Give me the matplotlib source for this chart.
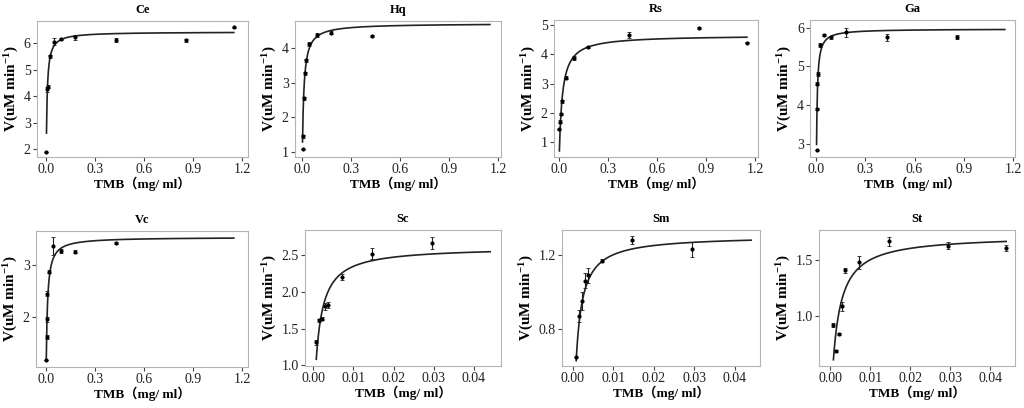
import numpy as np
import matplotlib
matplotlib.use("Agg")
import matplotlib.pyplot as plt

plt.rcParams['font.family'] = ['Liberation Serif', 'Noto Sans CJK SC', 'DejaVu Sans']
plt.rcParams['mathtext.fontset'] = 'custom'
plt.rcParams['mathtext.rm'] = 'Liberation Serif:bold'
plt.rcParams['mathtext.default'] = 'rm'

# ---- data ----
names = ["Ce", "Hq", "Rs", "Ga", "Vc", "Sc", "Sm", "St"]

ce_x = [0.003, 0.007, 0.010, 0.025, 0.050, 0.090, 0.180, 0.430, 0.860, 1.150]
ce_y = [1.90, 4.25, 4.35, 5.50, 6.05, 6.15, 6.22, 6.10, 6.10, 6.60]
ce_e = [0.00, 0.08, 0.05, 0.05, 0.12, 0.04, 0.10, 0.08, 0.06, 0.02]

hq_x = [0.003, 0.005, 0.010, 0.018, 0.025, 0.045, 0.090, 0.180, 0.430]
hq_y = [1.08, 1.45, 2.55, 3.28, 3.65, 4.12, 4.38, 4.45, 4.35]
hq_e = [0.00, 0.04, 0.04, 0.04, 0.04, 0.05, 0.05, 0.04, 0.03]

rs_x = [0.003, 0.007, 0.010, 0.020, 0.045, 0.090, 0.180, 0.430, 0.860, 1.150]
rs_y = [1.43, 1.70, 1.95, 2.40, 3.20, 3.88, 4.25, 4.65, 4.90, 4.40]
rs_e = [0.03, 0.05, 0.04, 0.05, 0.04, 0.06, 0.04, 0.10, 0.03, 0.03]

ga_x = [0.003, 0.005, 0.008, 0.010, 0.025, 0.050, 0.090, 0.180, 0.430, 0.860]
ga_y = [2.85, 3.90, 4.55, 4.80, 5.55, 5.82, 5.75, 5.88, 5.75, 5.77]
ga_e = [0.00, 0.03, 0.04, 0.05, 0.06, 0.03, 0.04, 0.12, 0.08, 0.05]

vc_x = [0.003, 0.005, 0.007, 0.010, 0.020, 0.045, 0.090, 0.180, 0.430]
vc_y = [1.15, 1.60, 1.95, 2.45, 2.88, 3.38, 3.28, 3.27, 3.43]
vc_e = [0.00, 0.04, 0.05, 0.05, 0.03, 0.18, 0.03, 0.03, 0.02]

sc_x = [0.0008, 0.0015, 0.0022, 0.0030, 0.0037, 0.0073, 0.0147, 0.0295]
sc_y = [1.31, 1.61, 1.63, 1.80, 1.82, 2.20, 2.52, 2.66]
sc_e = [0.03, 0.02, 0.02, 0.05, 0.04, 0.04, 0.07, 0.08]

sm_x = [0.0008, 0.0015, 0.0022, 0.0030, 0.0037, 0.0073, 0.0147, 0.0295]
sm_y = [0.65, 0.87, 0.95, 1.06, 1.09, 1.17, 1.28, 1.23]
sm_e = [0.00, 0.03, 0.05, 0.04, 0.04, 0.01, 0.02, 0.04]

st_x = [0.0008, 0.0015, 0.0022, 0.0030, 0.0037, 0.0073, 0.0147, 0.0295, 0.0440]
st_y = [0.92, 0.69, 0.84, 1.09, 1.41, 1.48, 1.67, 1.63, 1.61]
st_e = [0.02, 0.01, 0.01, 0.04, 0.02, 0.06, 0.04, 0.03, 0.03]

# Michaelis-Menten fit parameters (Vmax, Km) and fitted range
vmax = [6.42, 4.72, 4.65, 5.97, 3.55, 2.61, 1.305, 1.723]
km = [0.0044, 0.008, 0.017, 0.003, 0.006, 0.00113, 0.00086, 0.00146]
fit_lo = [0.003, 0.003, 0.003, 0.003, 0.003, 0.0008, 0.0008, 0.0008]
fit_hi = [1.15, 1.15, 1.15, 1.15, 1.15, 0.044, 0.044, 0.044]

xs = [ce_x, hq_x, rs_x, ga_x, vc_x, sc_x, sm_x, st_x]
ys = [ce_y, hq_y, rs_y, ga_y, vc_y, sc_y, sm_y, st_y]
es = [ce_e, hq_e, rs_e, ga_e, vc_e, sc_e, sm_e, st_e]

xticks_big = [0.0, 0.3, 0.6, 0.9, 1.2]
xticks_small = [0.00, 0.01, 0.02, 0.03, 0.04]
yticks = [[2, 3, 4, 5, 6], [1, 2, 3, 4], [1, 2, 3, 4, 5], [3, 4, 5, 6],
          [2, 3], [1.0, 1.5, 2.0, 2.5], [0.8, 1.2], [1.0, 1.5]]
ytick_fmt = ["{:.0f}", "{:.0f}", "{:.0f}", "{:.0f}", "{:.0f}", "{:.1f}", "{:.1f}", "{:.1f}"]
xlims = [(-0.055, 1.237), (-0.043, 1.218), (-0.03, 1.218), (-0.037, 1.212),
         (-0.06, 1.237), (-0.002, 0.0467), (-0.0027, 0.0462), (-0.0028, 0.0462)]
ylims = [(1.7, 6.83), (0.85, 4.79), (0.49, 5.17), (2.66, 6.2),
         (1.02, 3.67), (0.99, 2.84), (0.60, 1.335), (0.554, 1.77)]

# axes boxes in pixels: left, right, top, bottom
W, H = 1024, 408
boxes = [(37, 248, 21, 157), (295, 501, 21, 157), (554, 758, 20, 157), (810, 1015, 20, 157),
         (36, 248, 231, 367), (305, 501, 230, 366), (562, 760, 230, 366), (819, 1015, 230, 366)]

fig = plt.figure(figsize=(W / 100, H / 100), dpi=100)
lab_font = ['Liberation Serif', 'Noto Sans CJK SC']

for i, name in enumerate(names):
    l, r, t, b = boxes[i]
    ax = fig.add_axes([l / W, 1 - b / H, (r - l) / W, (b - t) / H])
    ax.errorbar(xs[i], ys[i], yerr=es[i], fmt='o', ms=2.0, color='black',
                ecolor='#222222', elinewidth=0.8, capsize=1.2, capthick=0.6)
    xf = np.linspace(fit_lo[i], fit_hi[i], 600)
    ax.plot(xf, vmax[i] * xf / (km[i] + xf), color='#222222', lw=1.2)
    ax.set_xlim(*xlims[i])
    ax.set_ylim(*ylims[i])
    if i in (5, 6, 7):
        ax.set_xticks(xticks_small)
        ax.set_xticklabels(["{:.2f}".format(v) for v in xticks_small])
    else:
        ax.set_xticks(xticks_big)
        ax.set_xticklabels(["{:.1f}".format(v) for v in xticks_big])
    ax.set_yticks(yticks[i])
    ax.set_yticklabels([ytick_fmt[i].format(v) for v in yticks[i]])
    for s in ax.spines.values():
        s.set_color('#b4b4b4')
        s.set_linewidth(0.8)
    ax.tick_params(axis='both', length=3, width=0.8, color='#444444',
                   labelsize=10, pad=1.5, labelcolor='#222222')
    ax.set_title(name, fontsize=9, fontweight='bold', pad=6)
    ax.set_xlabel("TMB（mg/ ml）", fontsize=9.5, fontweight='bold', family=lab_font, labelpad=0)
    ax.set_ylabel(r"V(uM min$^{-1}$)", fontsize=11, fontweight='bold', labelpad=2)

fig.savefig("out.png", dpi=100, facecolor='white')
